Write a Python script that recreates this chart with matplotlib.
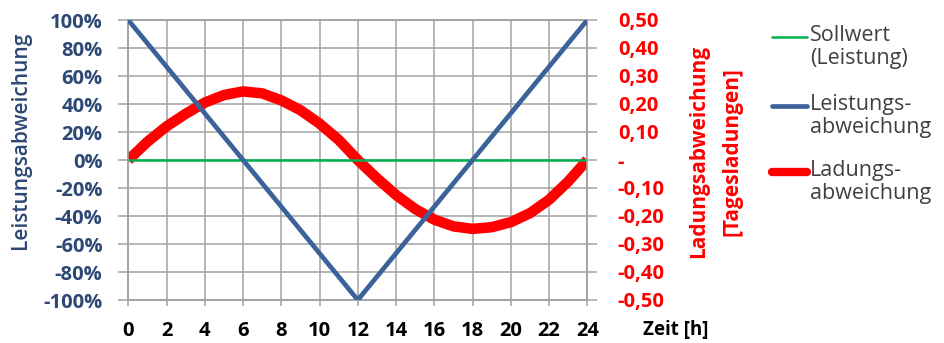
import matplotlib
matplotlib.use('Agg')
import matplotlib.pyplot as plt
from matplotlib.lines import Line2D
from matplotlib.ticker import FuncFormatter

plt.rcParams['font.family'] = ['Open Sans', 'DejaVu Sans']
plt.rcParams['font.weight'] = 'bold'

# data
hours = list(range(25))
leistung_t = [0, 12, 24]
leistung = [100, -100, 100]          # Leistungsabweichung in %
soll_t = [0, 24]
sollwert = [0, 0]                    # Sollwert (Leistung) in %
ladung = [0, 0.065, 0.12, 0.165, 0.205, 0.232, 0.245, 0.238, 0.213, 0.178,
          0.13, 0.072, 0, -0.065, -0.125, -0.175, -0.213, -0.237, -0.246,
          -0.24, -0.222, -0.19, -0.142, -0.077, 0]   # Tagesladungen
x_ticks = list(range(0, 25, 2))
left_ticks = list(range(-100, 101, 20))
right_ticks = [-0.5, -0.4, -0.3, -0.2, -0.1, 0, 0.1, 0.2, 0.3, 0.4, 0.5]

legend_labels = ['Sollwert\n(Leistung)', 'Leistungs-\nabweichung', 'Ladungs-\nabweichung']

GREEN = '#00B050'
BLUE = '#3B6399'
RED = '#FF0000'
NAVY = '#2C4874'
GRID = '#A3A3A3'

W, H = 944, 343
fig = plt.figure(figsize=(W / 100, H / 100), dpi=100)
x0, x1, y0, y1 = 128.3, 587.3, 20, 300
ax = fig.add_axes([x0 / W, 1 - y1 / H, (x1 - x0) / W, (y1 - y0) / H])
ax2 = ax.twinx()

# ax2 behind (grid + red), ax in front (green + blue)
ax.set_zorder(2)
ax2.set_zorder(1)
ax.patch.set_visible(False)
ax2.patch.set_visible(True)
ax2.patch.set_facecolor('white')

ax2.plot(hours, ladung, color=RED, lw=7.6, solid_capstyle='butt',
         solid_joinstyle='round', zorder=3)
ax.plot(soll_t, sollwert, color=GREEN, lw=1.8, zorder=2)
ax.plot(leistung_t, leistung, color=BLUE, lw=3.4, zorder=3)

ax.set_xlim(0, 24)
ax.set_ylim(-100, 100)
ax2.set_ylim(-0.5, 0.5)
ax.set_xticks(x_ticks)
ax.set_yticks(left_ticks)
ax2.set_yticks(right_ticks)
ax.yaxis.set_major_formatter(FuncFormatter(lambda v, p: f'{int(round(v))}%'))
ax2.yaxis.set_major_formatter(FuncFormatter(
    lambda v, p: '-' if abs(v) < 1e-9 else f'{v:.2f}'.replace('.', ',')))

# grid drawn by the back axes
ax2.xaxis.set_visible(True)
ax2.grid(True, axis='both', color=GRID, lw=1.1)
ax2.tick_params(axis='x', bottom=False, labelbottom=False, top=False, labeltop=False)
ax2.set_axisbelow(True)

for a in (ax, ax2):
    for s in a.spines.values():
        s.set_color(GRID)
        s.set_linewidth(1.1)

ax.tick_params(axis='x', direction='out', length=4, width=1.1, color=GRID, pad=11,
               labelsize=14.5, labelcolor='black')
ax.tick_params(axis='y', direction='out', length=7, width=1.1, color=GRID, pad=11.5,
               labelsize=14.5, labelcolor=NAVY)
ax2.tick_params(axis='y', direction='out', length=7, width=1.1, color=GRID, pad=15,
                labelsize=14.5, labelcolor=RED)
for lab in ax2.get_yticklabels():
    lab.set_horizontalalignment('left')

ax.set_ylabel('Leistungsabweichung', color=NAVY, fontsize=15, fontweight=600)
ax.yaxis.set_label_coords(-0.212, 0.57)
ax2.set_ylabel('Ladungsabweichung\n[Tagesladungen]', color=RED, fontsize=15,
               fontweight='bold', rotation=90, linespacing=1.75)
ax2.yaxis.set_label_coords(1.22, 0.53)

fig.text(643 / W, 1 - 330 / H, 'Zeit [h]', ha='left', va='center',
         fontsize=13.5, fontweight='bold', color='black')

# legend, handles aligned with first text line
legend_colors = [GREEN, BLUE, RED]
legend_lw = [1.8, 3.4, 6.0]
legend_y = [37, 106, 172]
for lab, col, lw, yy in zip(legend_labels, legend_colors, legend_lw, legend_y):
    fig.add_artist(Line2D([772 / W, 807 / W], [1 - yy / H] * 2, color=col, lw=lw,
                          solid_capstyle='round'))
    fig.text(810 / W, 1 - (yy - 12) / H, lab, ha='left', va='top', fontsize=15.5,
             fontweight='normal', color='#404040', linespacing=1.12)

fig.savefig('out.png', dpi=100)
